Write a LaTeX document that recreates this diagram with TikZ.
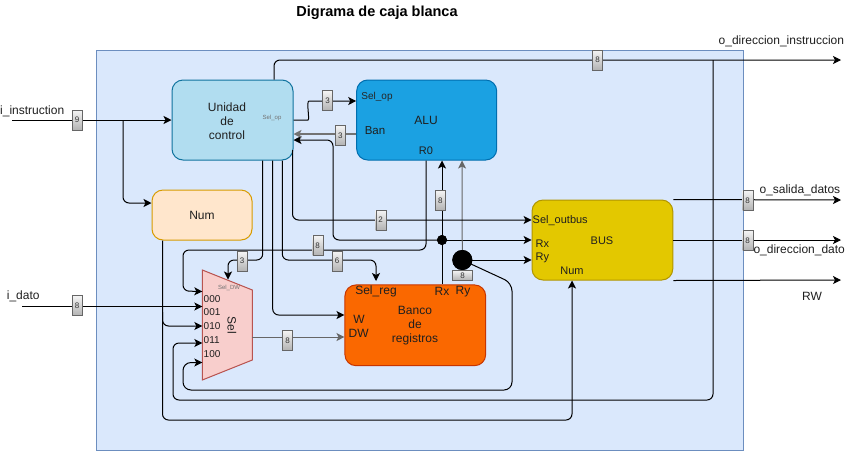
\documentclass[tikz,border=0pt]{standalone}
\usepackage{fontspec}
\setmainfont{Liberation Sans}
\usetikzlibrary{arrows.meta,calc}
\definecolor{cont}{HTML}{DAE8FC}
\definecolor{contb}{HTML}{6C8EBF}
\definecolor{ucf}{HTML}{B1DDF0}
\definecolor{ucb}{HTML}{10739E}
\definecolor{aluf}{HTML}{1BA1E2}
\definecolor{alub}{HTML}{006EAF}
\definecolor{numf}{HTML}{FFE6CC}
\definecolor{numb}{HTML}{D79B00}
\definecolor{busf}{HTML}{E3C800}
\definecolor{busb}{HTML}{B09500}
\definecolor{bancf}{HTML}{FA6800}
\definecolor{bancb}{HTML}{C73500}
\definecolor{muxf}{HTML}{F8CECC}
\definecolor{muxb}{HTML}{B85450}
\newcommand{\fsz}[1]{\fontsize{#1}{14}\selectfont}
\begin{document}
\begin{tikzpicture}[x=1pt,y=-1pt,
  conn/.style={line width=1pt, rounded corners=6pt},
  arr/.style={conn,-{Stealth[length=8pt,width=8pt,inset=2pt]}},
  gline/.style={draw=black!60},
  blk/.style={draw, line width=1pt, rounded corners=11pt, inner sep=0pt},
  lbl/.style={draw=black!60, top color=black!4, bottom color=black!30, minimum width=10pt, minimum height=20pt, inner sep=0pt, font=\fsz{8}, text=black!80},
  lblw/.style={lbl, minimum width=20pt, minimum height=10pt},
  txt/.style={inner sep=0pt, font=\fsz{12}, text=black!88},
  small/.style={inner sep=0pt, font=\fsz{6}, text=black!55},
  dot/.style={circle, fill=black, inner sep=0pt},
]
\useasboundingbox (0,0) rectangle (851,451);
% title
\node[inner sep=0pt, anchor=base, font=\bfseries\fontsize{14.5}{16}\selectfont] (title) at (377,16) {Digrama de caja blanca};
% container
\node[draw=contb, fill=cont, line width=1pt, minimum width=646.7pt, minimum height=400pt, anchor=north west, inner sep=0pt] (cont) at (96,50) {};
% blocks
\node[blk, fill=ucf, draw=ucb, minimum width=121pt, minimum height=80pt] (uc) at (232.5,120) {};
\node[blk, fill=aluf, draw=alub, minimum width=140pt, minimum height=80pt] (alu) at (426.7,120) {};
\node[blk, fill=numf, draw=numb, minimum width=100pt, minimum height=50pt] (num) at (202,215) {};
\node[blk, fill=busf, draw=busb, minimum width=140.7pt, minimum height=80pt] (bus) at (602.4,240) {};
\node[blk, fill=bancf, draw=bancb, minimum width=140.7pt, minimum height=80.7pt] (banco) at (415.3,325.3) {};
\draw[fill=muxf, draw=muxb, line width=1pt] (202.3,270) coordinate (muxnw) -- (252.3,290) coordinate (muxne) -- (252.3,360) coordinate (muxse) -- (202.3,380) coordinate (muxsw) -- cycle;

% ---------- connectors ----------
\coordinate (iin) at (12,120);
\draw[arr] (iin) -- (uc.west);
\draw[arr] (123,120) -- (123,203) -- (num.west |- 0,203);
\coordinate (oinst) at (841,60);
\draw[arr] (uc.north -| 274,0) -- (274,60) -- (oinst);
\draw[arr] (713,60) -- (713,400) -- (173,400) -- (173,343) -- (muxnw |- 0,343);
\draw[arr] (num.south -| 162.5,0) -- (162.5,420) -- (572,420) -- (bus.south -| 572,0);
\draw[arr] (162.5,312) -- (162.5,326) -- (muxnw |- 0,326);
\draw[arr] (alu.south -| 426,0) -- (426,250) -- (183,250) -- (183,291) -- (muxnw |- 0,291.5);
\coordinate (idato) at (22,306.5);
\draw[arr] (idato) -- (muxnw |- 0,306.5);
% Rx / Ry
\node[dot, minimum size=10pt] (rxdot) at (442,240) {};
\node[dot, minimum size=20pt] (rydot) at (462.3,260) {};
\draw[arr] (banco.north -| 442,0) -- (alu.south -| 442,0);
\draw[arr] (rxdot.center) -- (bus.west |- 0,240);
\draw[arr] (rxdot.center) -- (333,240) -- (333,140) -- (uc.east |- 0,140);
\draw[arr, gline] (rydot.center) -- (alu.south -| 462,0);
\draw[arr] (rydot.center) -- (bus.west |- 0,260);
\draw[arr, rounded corners=8pt] (rydot.center) -- (512,283) -- (512,390) -- (183,390) -- (183,362.5) -- (muxnw |- 0,362.5);
\node[dot, minimum size=10pt] at (rxdot) {};
\node[dot, minimum size=20pt] at (rydot) {};
% control to ALU
\draw[arr] (uc.east) -- (302,120) .. controls (310,120) and (306,101) .. (315,101) -- (alu.west |- 0,101);
\draw[arr, draw=black!55, line width=1.8pt] (alu.west |- 0,134) -- (uc.east |- 0,134);
% control to bus
\draw[arr] (292.5,150) -- (292.5,220) -- (bus.west |- 0,220);
% control to mux/banco
\draw[arr] (uc.south -| 262.7,0) -- (262.7,260) -- (228,260) -- (228,279.5);
\draw[arr] (uc.south -| 272.7,0) -- (272.7,315) -- (banco.west |- 0,315);
\draw[arr] (uc.south -| 282.3,0) -- (282.3,260) -- (376,260) -- (376,281);
% mux out
\draw[arr, gline] (muxne |- 0,337) -- (banco.west |- 0,337);
% bus outputs
\coordinate (osal) at (841,200);
\coordinate (odir) at (841,240);
\coordinate (orw) at (841,280);
\draw[arr] (bus.north east) -- (osal);
\draw[arr] (bus.east) -- (odir);
\draw[arr] (bus.south east) -- (orw);

% ---------- width labels ----------
\node[lbl] (l9) at (77,120) {9};
\node[lbl] (l8top) at (597.5,60) {8};
\node[lbl] (l8dato) at (77,305.5) {8};
\node[lbl] (l3op) at (327.5,100.5) {3};
\node[lbl] (l3ban) at (340.3,135.3) {3};
\node[lbl] (l2) at (380.7,220) {2};
\node[lbl] (l8rx) at (440.3,200.3) {8};
\node[lbl] (l8r0) at (317.7,245.3) {8};
\node[lbl] (l6) at (337,261.2) {6};
\node[lbl] (l3dw) at (242,261.2) {3};
\node[lbl] (l8mux) at (287.5,340.3) {8};
\node[lblw] (l8ry) at (462.5,275.3) {8};
\node[lbl] (l8sal) at (747.7,200.3) {8};
\node[lbl] (l8dir) at (747.7,240.3) {8};

% ---------- texts ----------
\node[txt, align=center] (uctxt) at (227,121) {Unidad\\de\\control};
\node[small] (ucsel) at (272,117.7) {Sel\_op};
\node[txt, font=\fsz{10}, text=black!85] (alusel) at (377,96.7) {Sel\_op};
\node[txt] (alutxt) at (426,120.7) {ALU};
\node[txt, font=\fsz{11.5}] (aluban) at (375,131) {Ban};
\node[txt, font=\fsz{11}] (alur0) at (426,151) {R0};
\node[txt] (numtxt) at (202,215) {Num};
\node[txt, font=\fsz{11}, anchor=west] (busso) at (532.5,220.5) {Sel\_outbus};
\node[txt, font=\fsz{11}] (bustxt) at (602,240.7) {BUS};
\node[txt, font=\fsz{11}, anchor=west] (busrx) at (535.5,244) {Rx};
\node[txt, font=\fsz{11}, anchor=west] (busry) at (535.5,258.3) {Ry};
\node[txt, font=\fsz{11}] (busnum) at (572,270.7) {Num};
\node[txt] (bsel) at (376,291.5) {Sel\_reg};
\node[txt] (brx) at (442,291.5) {Rx};
\node[txt] (bry) at (463,291.5) {Ry};
\node[txt] (bw) at (359,319) {W};
\node[txt] (bdw) at (358.7,333.3) {DW};
\node[txt, align=center] (bantxt) at (415,326) {Banco\\de\\registros};
\node[small] (muxsel) at (229,287.7) {Sel\_DW};
\foreach \t/\yy in {000/299,001/312.3,010/326.3,011/340,100/354}
  \node[txt, font=\fsz{10}, anchor=west] at (203.5,\yy) {\t};
\node[txt, rotate=-90] (muxtxt) at (232,325) {Sel};
\node[txt, anchor=west] (tiin) at (0,111) {i\_instruction};
\node[txt, anchor=west] (tidato) at (6.7,296) {i\_dato};
\node[txt, anchor=east] (toinst) at (844.3,41) {o\_direccion\_instruccion};
\node[txt, anchor=west] (tosal) at (759.3,190.7) {o\_salida\_datos};
\node[txt, anchor=west] (todir) at (753.3,250.7) {o\_direccion\_dato};
\node[txt, anchor=west] (torw) at (802,296) {RW};
\end{tikzpicture}
\end{document}
